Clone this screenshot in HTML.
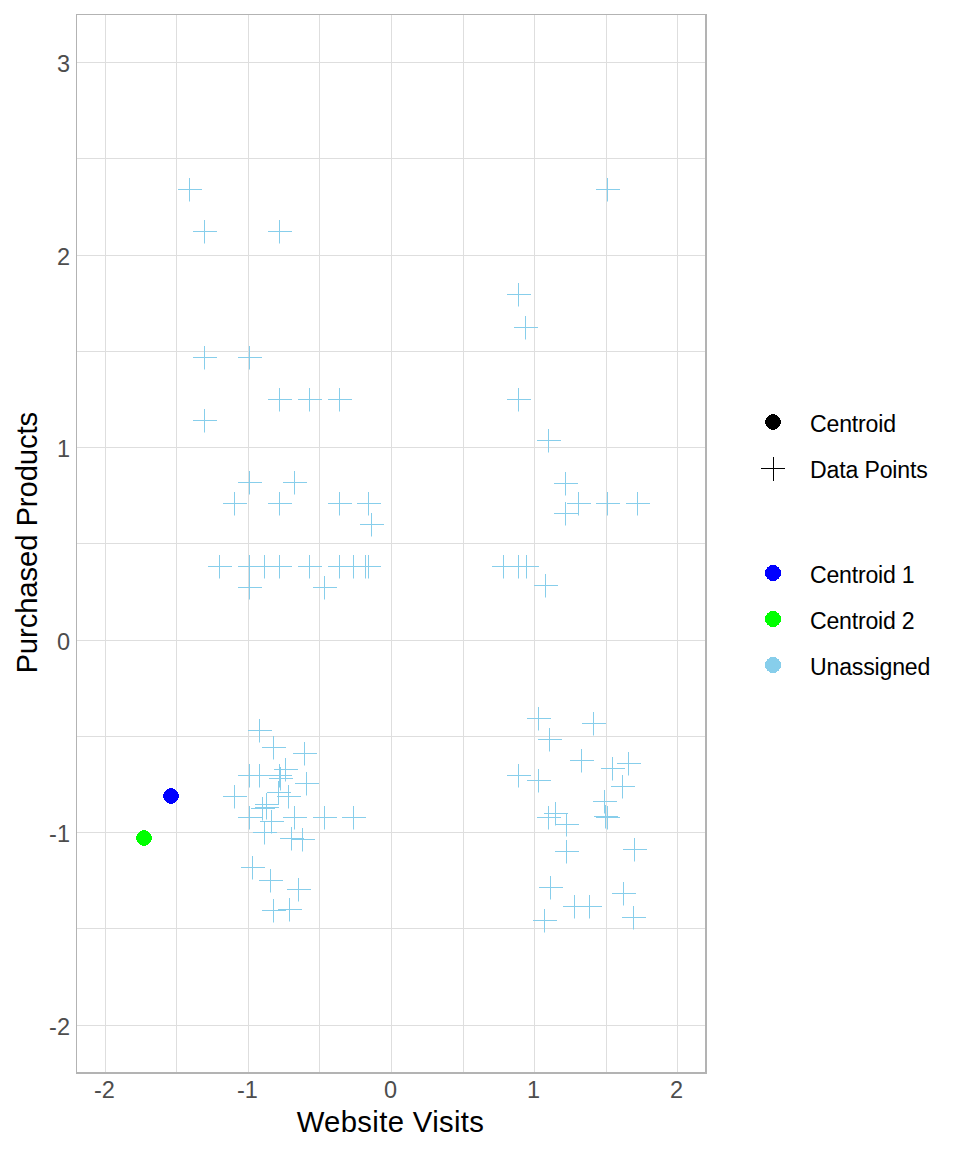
<!DOCTYPE html><html><head><meta charset="utf-8"><title>K-means centroids</title><style>html,body{margin:0;padding:0;background:#fff}svg{display:block}text{font-family:"Liberation Sans",sans-serif}</style></head><body>
<svg width="960" height="1152" viewBox="0 0 960 1152">
<rect x="0" y="0" width="960" height="1152" fill="#fff"/>
<path d="M105.5 15V1072M176.5 15V1072M248.5 15V1072M319.5 15V1072M391.5 15V1072M463.5 15V1072M534.5 15V1072M606.5 15V1072M677.5 15V1072M77 62.5H705M77 158.5H705M77 255.5H705M77 351.5H705M77 447.5H705M77 543.5H705M77 640.5H705M77 736.5H705M77 832.5H705M77 928.5H705M77 1025.5H705" stroke="#DEDEDE" stroke-width="1" fill="none"/>
<path d="M178.0 189.5h24M189.5 178.0v23.5M193.0 231.5h24M204.5 220.0v23.5M268.0 231.5h24M279.5 220.0v23.5M193.0 357.5h24M204.5 346.0v23.5M238.0 357.5h24M249.5 346.0v23.5M268.0 399.5h24M279.5 388.0v23.5M298.0 399.5h24M309.5 388.0v23.5M328.0 399.5h24M339.5 388.0v23.5M193.0 420.5h24M204.5 409.0v23.5M238.0 482.5h24M249.5 471.0v23.5M283.0 482.5h24M294.5 471.0v23.5M223.0 503.5h24M234.5 492.0v23.5M268.0 503.5h24M279.5 492.0v23.5M328.0 503.5h24M339.5 492.0v23.5M357.0 503.5h24M368.5 492.0v23.5M360.0 524.5h24M371.5 513.0v23.5M208.0 566.5h24M219.5 555.0v23.5M238.0 566.5h24M249.5 555.0v23.5M253.0 566.5h24M264.5 555.0v23.5M268.0 566.5h24M279.5 555.0v23.5M298.0 566.5h24M309.5 555.0v23.5M328.0 566.5h24M339.5 555.0v23.5M342.0 566.5h24M353.5 555.0v23.5M354.0 566.5h24M365.5 555.0v23.5M357.0 566.5h24M368.5 555.0v23.5M238.0 587.5h24M249.5 576.0v23.5M313.0 587.5h24M324.5 576.0v23.5M596.0 189.5h24M607.5 178.0v23.5M507.0 294.5h24M518.5 283.0v23.5M514.0 327.5h24M525.5 316.0v23.5M507.0 399.5h24M518.5 388.0v23.5M537.0 440.5h24M548.5 429.0v23.5M554.0 483.5h24M565.5 472.0v23.5M567.0 503.5h24M578.5 492.0v23.5M596.0 503.5h24M607.5 492.0v23.5M626.0 503.5h24M637.5 492.0v23.5M554.0 513.5h24M565.5 502.0v23.5M492.0 566.5h24M503.5 555.0v23.5M507.0 566.5h24M518.5 555.0v23.5M515.0 566.5h24M526.5 555.0v23.5M534.0 585.5h24M545.5 574.0v23.5M248.0 730.5h24M259.5 719.0v23.5M262.0 747.5h24M273.5 736.0v23.5M293.0 753.5h24M304.5 742.0v23.5M238.0 775.5h24M249.5 764.0v23.5M248.0 775.5h24M259.5 764.0v23.5M268.0 775.5h24M279.5 764.0v23.5M269.0 778.5h24M280.5 767.0v23.5M274.0 769.5h24M285.5 758.0v23.5M295.0 783.5h24M306.5 772.0v23.5M267.0 792.5h24M278.5 781.0v23.5M277.0 796.5h24M288.5 785.0v23.5M223.0 796.5h24M234.5 785.0v23.5M255.0 804.5h24M266.5 793.0v23.5M255.0 807.5h24M266.5 796.0v23.5M251.0 808.5h24M262.5 797.0v23.5M238.0 817.5h24M249.5 806.0v23.5M283.0 817.5h24M294.5 806.0v23.5M313.0 817.5h24M324.5 806.0v23.5M342.0 817.5h24M353.5 806.0v23.5M260.0 821.5h24M271.5 810.0v23.5M253.0 832.5h24M264.5 821.0v23.5M280.0 838.5h24M291.5 827.0v23.5M291.0 839.5h24M302.5 828.0v23.5M241.0 867.5h24M252.5 856.0v23.5M259.0 880.5h24M270.5 869.0v23.5M287.0 889.5h24M298.5 878.0v23.5M262.0 910.5h24M273.5 899.0v23.5M278.0 909.5h24M289.5 898.0v23.5M527.0 718.5h24M538.5 707.0v23.5M582.0 723.5h24M593.5 712.0v23.5M538.0 739.5h24M549.5 728.0v23.5M570.0 760.5h24M581.5 749.0v23.5M617.0 763.5h24M628.5 752.0v23.5M601.0 768.5h24M612.5 757.0v23.5M507.0 775.5h24M518.5 764.0v23.5M527.0 780.5h24M538.5 769.0v23.5M611.0 786.5h24M622.5 775.0v23.5M593.0 801.5h24M604.5 790.0v23.5M594.0 816.5h24M605.5 805.0v23.5M596.0 817.5h24M607.5 806.0v23.5M537.0 817.5h24M548.5 806.0v23.5M544.0 813.5h24M555.5 802.0v23.5M555.0 824.5h24M566.5 813.0v23.5M555.0 851.5h24M566.5 840.0v23.5M623.0 849.5h24M634.5 838.0v23.5M539.0 887.5h24M550.5 876.0v23.5M612.0 893.5h24M623.5 882.0v23.5M563.0 906.5h24M574.5 895.0v23.5M578.0 906.5h24M589.5 895.0v23.5M533.0 920.5h24M544.5 909.0v23.5M622.0 917.5h24M633.5 906.0v23.5" stroke="#87CEEB" stroke-width="1" fill="none"/>
<path d="M142 830h4v1h-4zM140 831h8v1h-8zM139 832h10v1h-10zM138 833h12v1h-12zM137 834h14v1h-14zM137 835h14v1h-14zM136 836h16v1h-16zM136 837h16v1h-16zM136 838h16v1h-16zM136 839h16v1h-16zM137 840h14v1h-14zM137 841h14v1h-14zM138 842h12v1h-12zM139 843h10v1h-10zM140 844h8v1h-8zM142 845h4v1h-4z" fill="#00FF00" shape-rendering="crispEdges"/>
<path d="M169 788h4v1h-4zM167 789h8v1h-8zM166 790h10v1h-10zM165 791h12v1h-12zM164 792h14v1h-14zM164 793h14v1h-14zM163 794h16v1h-16zM163 795h16v1h-16zM163 796h16v1h-16zM163 797h16v1h-16zM164 798h14v1h-14zM164 799h14v1h-14zM165 800h12v1h-12zM166 801h10v1h-10zM167 802h8v1h-8zM169 803h4v1h-4z" fill="#0000FF" shape-rendering="crispEdges"/>
<path d="M76 14H707V1074H76Z M77 15V1072H705V15Z" fill="#B3B3B3" fill-rule="evenodd"/>
<g fill="#4D4D4D" font-size="23.5px">
<text x="104.5" y="1097.8" text-anchor="middle">-2</text>
<text x="247.5" y="1097.8" text-anchor="middle">-1</text>
<text x="390.5" y="1097.8" text-anchor="middle">0</text>
<text x="533.5" y="1097.8" text-anchor="middle">1</text>
<text x="676.5" y="1097.8" text-anchor="middle">2</text>
<text x="70" y="71.9" text-anchor="end">3</text>
<text x="70" y="264.9" text-anchor="end">2</text>
<text x="70" y="456.9" text-anchor="end">1</text>
<text x="70" y="649.9" text-anchor="end">0</text>
<text x="70" y="841.9" text-anchor="end">-1</text>
<text x="70" y="1034.9" text-anchor="end">-2</text>
</g>
<text x="390.3" y="1131.6" text-anchor="middle" font-size="29.3px" fill="#000" textLength="187.3" lengthAdjust="spacing">Website Visits</text>
<text transform="translate(36.8 542.7) rotate(-90)" text-anchor="middle" font-size="29.3px" fill="#000" textLength="261.8" lengthAdjust="spacing">Purchased Products</text>
<g font-size="23.1px" fill="#000">
<path d="M771 414h4v1h-4zM769 415h8v1h-8zM768 416h10v1h-10zM767 417h12v1h-12zM766 418h14v1h-14zM766 419h14v1h-14zM765 420h16v1h-16zM765 421h16v1h-16zM765 422h16v1h-16zM765 423h16v1h-16zM766 424h14v1h-14zM766 425h14v1h-14zM767 426h12v1h-12zM768 427h10v1h-10zM769 428h8v1h-8zM771 429h4v1h-4z" fill="#000000" shape-rendering="crispEdges"/>
<path d="M761 468.5h24M773.5 457v24" stroke="#000" stroke-width="1"/>
<text x="810" y="431.6" textLength="86.0" lengthAdjust="spacing">Centroid</text>
<text x="810" y="477.7" textLength="117.8" lengthAdjust="spacing">Data Points</text>
<path d="M770 565h6v1h-6zM769 566h8v1h-8zM767 567h12v1h-12zM767 568h12v1h-12zM766 569h14v1h-14zM765 570h16v1h-16zM765 571h16v1h-16zM765 572h16v1h-16zM765 573h16v1h-16zM765 574h16v1h-16zM765 575h16v1h-16zM766 576h14v1h-14zM767 577h12v1h-12zM767 578h12v1h-12zM769 579h8v1h-8zM770 580h6v1h-6z" fill="#0000FF" shape-rendering="crispEdges"/>
<path d="M770 611h6v1h-6zM769 612h8v1h-8zM767 613h12v1h-12zM767 614h12v1h-12zM766 615h14v1h-14zM765 616h16v1h-16zM765 617h16v1h-16zM765 618h16v1h-16zM765 619h16v1h-16zM765 620h16v1h-16zM765 621h16v1h-16zM766 622h14v1h-14zM767 623h12v1h-12zM767 624h12v1h-12zM769 625h8v1h-8zM770 626h6v1h-6z" fill="#00FF00" shape-rendering="crispEdges"/>
<path d="M770 657h6v1h-6zM769 658h8v1h-8zM767 659h12v1h-12zM767 660h12v1h-12zM766 661h14v1h-14zM765 662h16v1h-16zM765 663h16v1h-16zM765 664h16v1h-16zM765 665h16v1h-16zM765 666h16v1h-16zM765 667h16v1h-16zM766 668h14v1h-14zM767 669h12v1h-12zM767 670h12v1h-12zM769 671h8v1h-8zM770 672h6v1h-6z" fill="#87CEEB" shape-rendering="crispEdges"/>
<text x="810" y="582.6" textLength="104.6" lengthAdjust="spacing">Centroid 1</text>
<text x="810" y="628.7" textLength="104.6" lengthAdjust="spacing">Centroid 2</text>
<text x="810" y="674.8" textLength="120.3" lengthAdjust="spacing">Unassigned</text>
</g>
</svg></body></html>
